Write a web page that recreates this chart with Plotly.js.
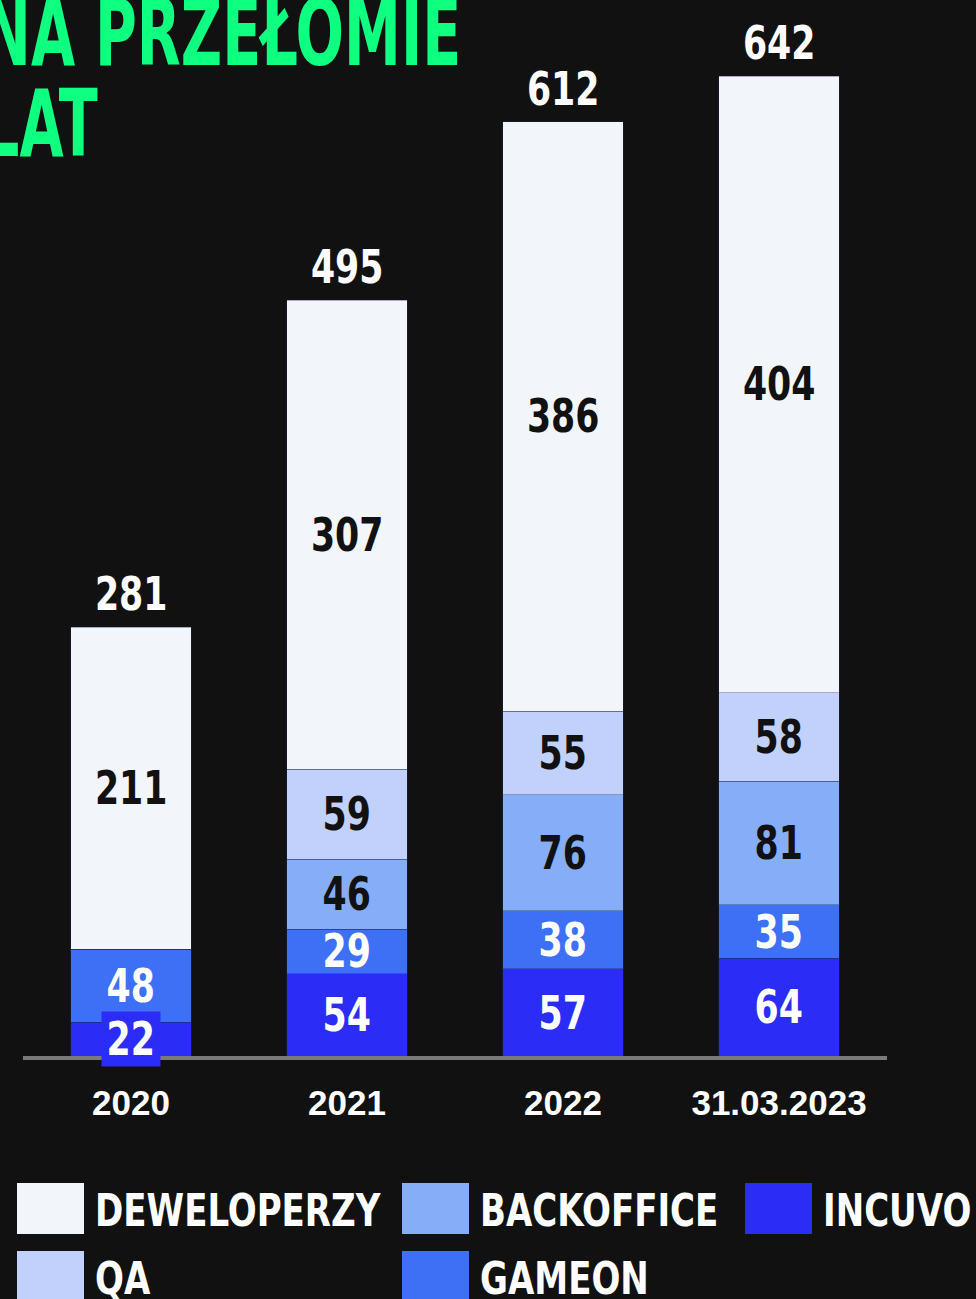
<!DOCTYPE html>
<html>
<head>
<meta charset="utf-8">
<script src="https://cdn.plot.ly/plotly-3.0.1.min.js"></script>
<style>
html,body{margin:0;padding:0;background:#111111;}
#chart{width:976px;height:1299px;}
</style>
</head>
<body>
<div id="chart"></div>
<script>
// ---- data ----
const categories = ['2020', '2021', '2022', '31.03.2023'];
const incuvo     = [22, 54, 57, 64];
const gameon     = [48, 29, 38, 35];
const backoffice = [0, 46, 76, 81];
const qa         = [0, 59, 55, 58];
const deweloperzy = [211, 307, 386, 404];
const seriesNames = ['INCUVO', 'GAMEON', 'BACKOFFICE', 'QA', 'DEWELOPERZY'];
const titleLines = ['NA PRZEŁOMIE', 'LAT'];

// ---- styles ----
const seriesValues = [incuvo, gameon, backoffice, qa, deweloperzy];
const colors = ['#2b2cf6', '#3d70f5', '#86adf8', '#c2d1fb', '#f2f5fa'];
const labelColors = ['#ffffff', '#ffffff', '#111111', '#111111', '#111111'];
const BG = '#111111';
const NARROW = '"DejaVu Sans Condensed", "DejaVu Sans", sans-serif';
const BOLD = '"Liberation Sans", Arial, sans-serif';

const W = 976, H = 1299;
const M = {l: 23, r: 89, t: 18, b: 243};
const pw = W - M.l - M.r, ph = H - M.t - M.b;
const px2x = p => (p - M.l) / pw;
const py2y = p => (H - M.b - p) / ph;

const traces = seriesValues.map((vals, i) => ({
  type: 'bar',
  name: seriesNames[i],
  x: categories,
  y: vals,
  marker: {color: colors[i], line: {width: 1, color: 'rgba(30,40,90,0.35)'}},
  hoverinfo: 'none',
  showlegend: false
}));

const annotations = [];
const squeeze = []; // horizontal condensing per annotation: [scale, origin]
// segment labels
categories.forEach((c, ci) => {
  let base = 0;
  seriesValues.forEach((vals, si) => {
    const v = vals[ci];
    if (v > 0) {
      const a = {
        x: ci, y: base + v / 2, xref: 'x', yref: 'y',
        text: String(v), showarrow: false,
        font: {family: NARROW, size: 46, color: labelColors[si], weight: 700},
        xanchor: 'center', yanchor: 'middle'
      };
      if (v < 25) { a.bgcolor = colors[si]; a.borderpad = 0; }
      annotations.push(a); squeeze.push([0.84, 'center']);
    }
    base += v;
  });
  // total
  annotations.push({
    x: ci, y: base, xref: 'x', yref: 'y', text: String(base), showarrow: false,
    font: {family: NARROW, size: 46, color: '#ffffff', weight: 700},
    xanchor: 'center', yanchor: 'bottom', yshift: 4
  });
  squeeze.push([0.84, 'center']);
});

// title
titleLines.forEach((t, i) => {
  annotations.push({
    xref: 'paper', yref: 'paper', x: px2x(-19), y: py2y(33 + i * 91),
    text: t, showarrow: false, xanchor: 'left', yanchor: 'middle',
    font: {family: NARROW, size: 92, color: '#0fff80', weight: 700}
  });
  squeeze.push([0.69, 'left center']);
});

// custom legend (column-major)
const legendOrder = ['DEWELOPERZY', 'QA', 'BACKOFFICE', 'GAMEON', 'INCUVO'];
const colX = [17, 402, 745];
const rowY = [1183, 1251];
const shapes = [];
legendOrder.forEach((name, k) => {
  const si = seriesNames.indexOf(name);
  const col = Math.floor(k / 2), row = k % 2;
  const x0 = colX[col], y0 = rowY[row];
  shapes.push({
    type: 'rect', xref: 'paper', yref: 'paper',
    x0: px2x(x0), x1: px2x(x0 + 67), y0: py2y(y0), y1: py2y(y0 + 51),
    fillcolor: colors[si], line: {width: 0}
  });
  annotations.push({
    xref: 'paper', yref: 'paper', x: px2x(x0 + 76), y: py2y(y0 + 27),
    text: name, showarrow: false, xanchor: 'left', yanchor: 'middle',
    font: {family: NARROW, size: 44, color: '#ffffff', weight: 700}
  });
  squeeze.push([0.86, 'left center']);
});

const layout = {
  width: W, height: H,
  margin: M,
  paper_bgcolor: BG, plot_bgcolor: BG,
  barmode: 'stack',
  bargap: 0.444,
  showlegend: false,
  xaxis: {
    type: 'category', range: [-0.5, 3.5], fixedrange: true,
    showgrid: false, zeroline: false,
    showline: true, linecolor: '#7a7a7a', linewidth: 4,
    ticks: 'outside', ticklen: 13, tickcolor: 'rgba(0,0,0,0)',
    tickfont: {family: BOLD, size: 35, color: '#ffffff', weight: 700}
  },
  yaxis: {visible: false, range: [0, 680], fixedrange: true},
  annotations: annotations,
  shapes: shapes
};

function condense() {
  document.querySelectorAll('#chart .annotation').forEach(g => {
    const i = +g.getAttribute('data-index');
    const s = squeeze[i];
    const t = g.querySelector('text');
    if (!s || !t) return;
    t.style.transformBox = 'fill-box';
    t.style.transformOrigin = s[1];
    t.style.transform = 'scaleX(' + s[0] + ')';
  });
}

Plotly.newPlot('chart', traces, layout, {displayModeBar: false, staticPlot: true}).then(condense);
</script>
</body>
</html>
